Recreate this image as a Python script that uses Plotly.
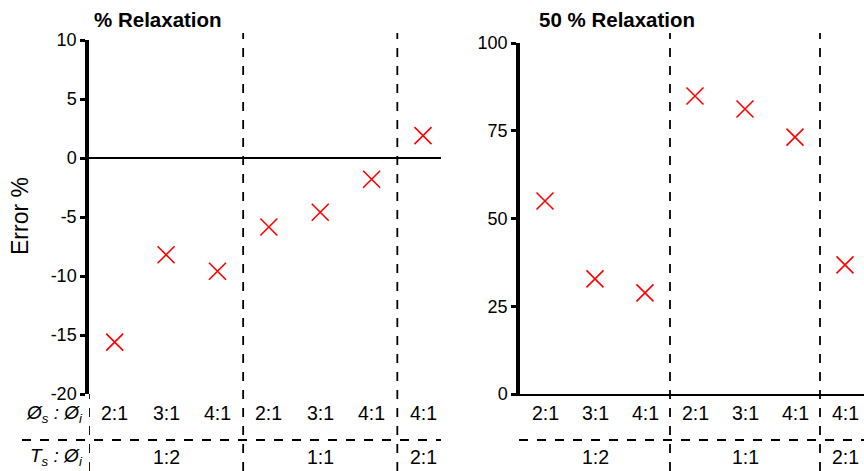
import plotly.graph_objects as go

# Category layout: diameter ratio (row 1) grouped by thickness ratio (row 2)
ratio_labels = ["2:1", "3:1", "4:1", "2:1", "3:1", "4:1", "4:1"]
group_labels = ["1:2", "1:1", "2:1"]
group_centers = [1, 4, 6]
group_bounds = [2.5, 5.5]

# Error values (%)
err_relax = [-15.6, -8.2, -9.6, -5.85, -4.6, -1.8, 1.9]
err_relax50 = [55, 32.8, 28.8, 84.9, 81.2, 73.2, 36.8]

# Y tick values and their printed labels
yticks_left = [-20, -15, -10, -5, 0, 5, 10]
yticks_right = [0, 25, 50, 75, 100]

cats = list(range(len(ratio_labels)))
W, H = 864, 471
FONT = "Liberation Sans, Arial, sans-serif"

def px(xp):
    return xp / W

def py(yp):
    return 1 - yp / H

fig = go.Figure()
marker = dict(symbol="x-thin-open", size=17, line=dict(color="#ff0000", width=1.6), color="#ff0000")
fig.add_trace(go.Scatter(x=cats, y=err_relax, mode="markers", marker=marker,
                         xaxis="x", yaxis="y", showlegend=False))
fig.add_trace(go.Scatter(x=cats, y=err_relax50, mode="markers", marker=marker,
                         xaxis="x2", yaxis="y2", showlegend=False))

xcommon = dict(showgrid=False, zeroline=False, showticklabels=False, ticks="", automargin=False)
ycommon = dict(showgrid=False, ticks="outside", ticklen=5, tickwidth=3, tickcolor="black",
               showline=True, linecolor="black", linewidth=3.5, automargin=False,
               tickfont=dict(family=FONT, size=18, color="black"))

fig.update_layout(
    width=W, height=H, autosize=False,
    margin=dict(l=0, r=0, t=0, b=0, pad=0, autoexpand=False),
    paper_bgcolor="white", plot_bgcolor="white",
    font=dict(family=FONT, color="black"),
    xaxis=dict(domain=[px(89), px(441)], range=[-0.5, 6.35], anchor="y", **xcommon),
    yaxis=dict(domain=[py(394), py(40)], range=[-20, 10], tickvals=yticks_left,
               ticktext=[str(v) for v in yticks_left],
               zeroline=True, zerolinecolor="black", zerolinewidth=2, anchor="x",
               **ycommon),
    xaxis2=dict(domain=[px(520), 1.0], range=[-0.5, 6.38], anchor="y2",
                showline=True, linecolor="black", linewidth=2.4, **xcommon),
    yaxis2=dict(domain=[py(394), py(43)], range=[0, 100], tickvals=yticks_right,
                ticktext=[str(v) for v in yticks_right],
                zeroline=False, anchor="x2", **ycommon),
)

shapes = []
dash = dict(color="black", width=1.8, dash="dash")
for xa in ["x", "x2"]:
    for b in group_bounds:
        shapes.append(dict(type="line", xref=xa, yref="paper", x0=b, x1=b, y0=0, y1=py(33), line=dash))
# left axis continues dashed through the table
shapes.append(dict(type="line", xref="x", yref="paper", x0=-0.5, x1=-0.5, y0=0, y1=py(394), line=dash))
# horizontal separator between the two table rows
shapes.append(dict(type="line", xref="paper", yref="paper", x0=px(22), x1=px(441), y0=py(440), y1=py(440), line=dash))
shapes.append(dict(type="line", xref="paper", yref="paper", x0=px(519), x1=1.0, y0=py(440), y1=py(440), line=dash))
fig.update_layout(shapes=shapes)

ann = []
tfont = dict(family=FONT, size=19.5, color="black")
for xa in ["x", "x2"]:
    for c, lab in zip(cats, ratio_labels):
        ann.append(dict(x=c, y=py(413), xref=xa, yref="paper", text=lab, showarrow=False,
                        font=tfont, xanchor="center", yanchor="middle"))
    for c, lab in zip(group_centers, group_labels):
        ann.append(dict(x=c, y=py(457), xref=xa, yref="paper", text=lab, showarrow=False,
                        font=tfont, xanchor="center", yanchor="middle"))
rfont = dict(family=FONT, size=19, color="black")
ann.append(dict(x=px(85), y=py(414), xref="paper", yref="paper",
                text="<i>Ø<sub>s</sub> : Ø<sub>i</sub></i>", showarrow=False,
                font=rfont, xanchor="right", yanchor="middle"))
ann.append(dict(x=px(85), y=py(457), xref="paper", yref="paper",
                text="<i>T<sub>s</sub> : Ø<sub>i</sub></i>", showarrow=False,
                font=rfont, xanchor="right", yanchor="middle"))
# y-axis title
ann.append(dict(x=px(20), y=py(216), xref="paper", yref="paper", text="Error %", textangle=-90,
                showarrow=False, font=dict(family=FONT, size=23, color="black"),
                xanchor="center", yanchor="middle"))
# panel titles
ann.append(dict(x=px(92), y=py(20), xref="paper", yref="paper", text="<b>% Relaxation</b>",
                showarrow=False, font=dict(family=FONT, size=20.5, color="black"),
                xanchor="left", yanchor="middle"))
ann.append(dict(x=px(537), y=py(20), xref="paper", yref="paper", text="<b>50 % Relaxation</b>",
                showarrow=False, font=dict(family=FONT, size=20.5, color="black"),
                xanchor="left", yanchor="middle"))
fig.update_layout(annotations=ann)

fig.write_html("out.html")
